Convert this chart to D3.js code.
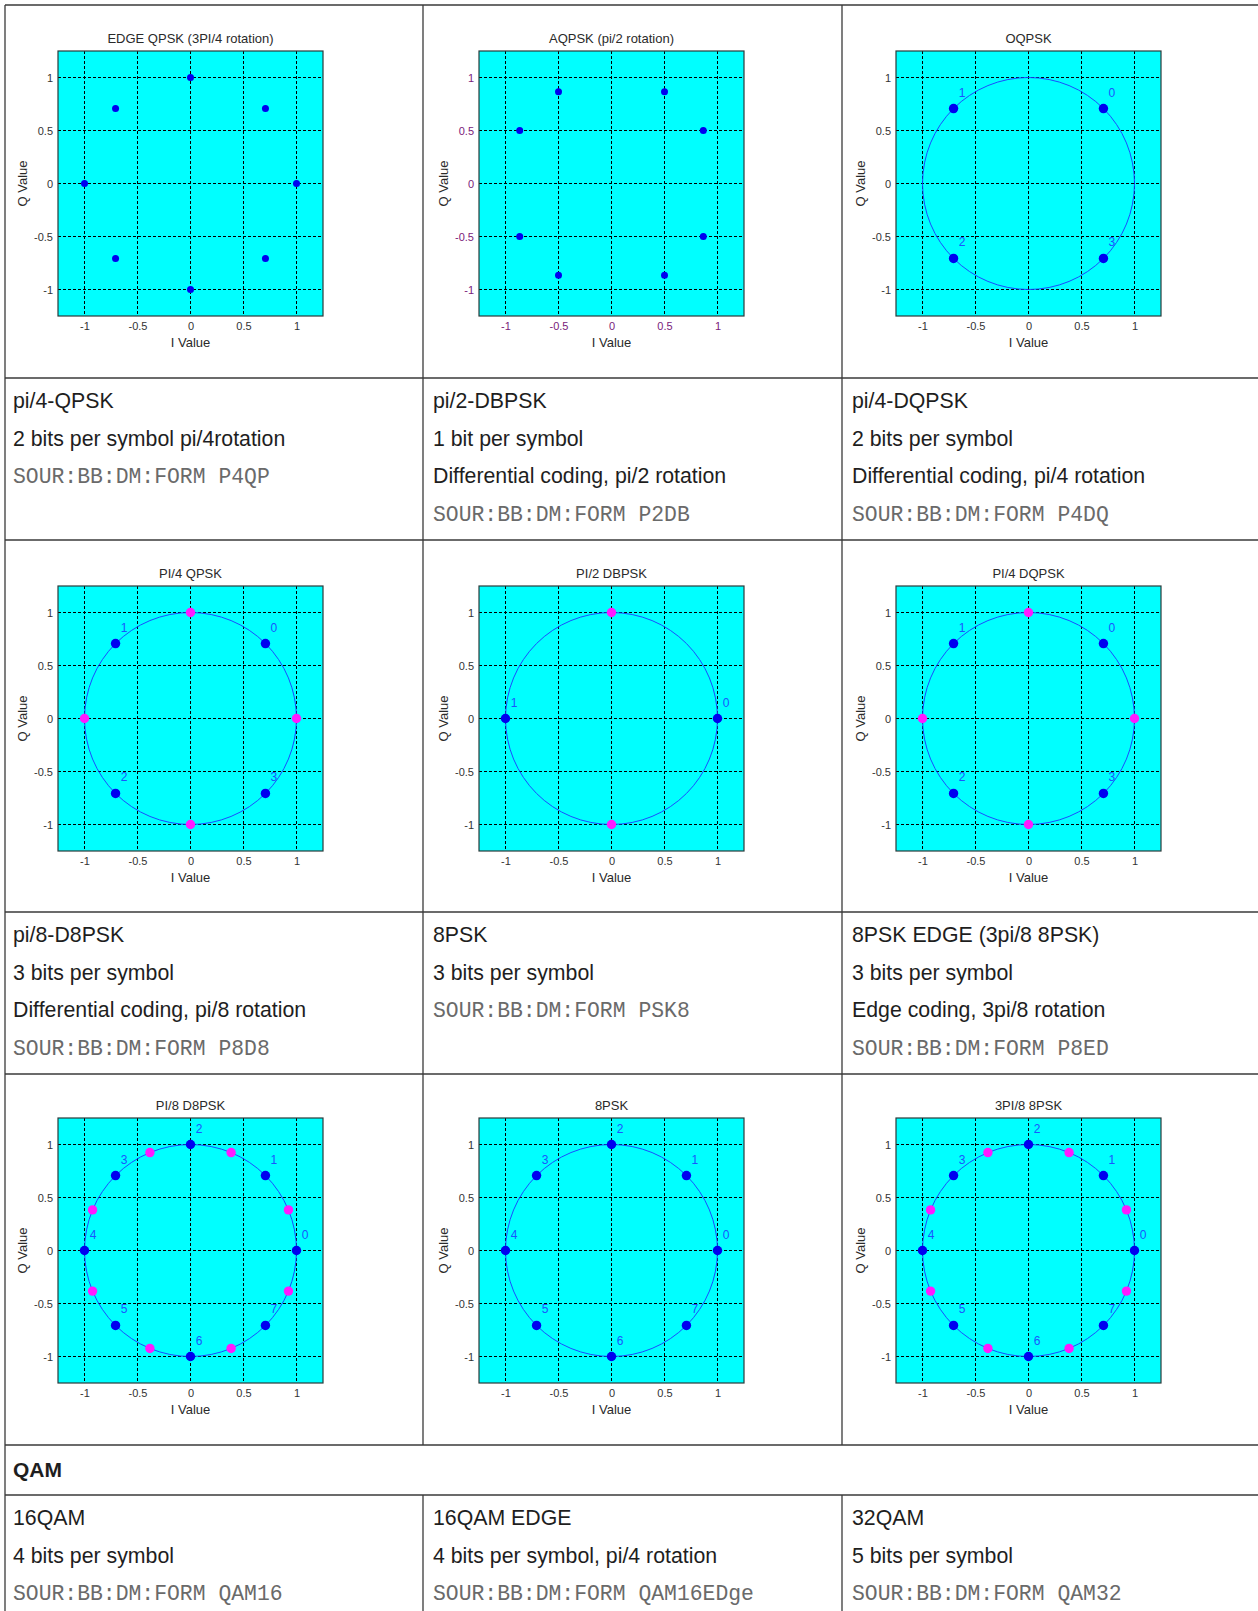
<!DOCTYPE html>
<html>
<head>
<meta charset="utf-8">
<script src="https://cdn.jsdelivr.net/npm/d3@7"></script>
<style>
  body { margin: 0; background: #fff; }
  svg { display: block; }
</style>
</head>
<body>
<div id="page"></div>
<script>
/* DATA */
const ticks = [-1, -0.5, 0, 0.5, 1];

// EDGE QPSK (3PI/4 rotation)
const edgeI = [1, 0.707, 0, -0.707, -1, -0.707, 0, 0.707];
const edgeQ = [0, 0.707, 1, 0.707, 0, -0.707, -1, -0.707];
// AQPSK (pi/2 rotation)
const aqpskI = [0.866, 0.5, -0.5, -0.866, -0.866, -0.5, 0.5, 0.866];
const aqpskQ = [0.5, 0.866, 0.866, 0.5, -0.5, -0.866, -0.866, -0.5];
// QPSK symbols 0..3
const qpskI = [0.707, -0.707, -0.707, 0.707];
const qpskQ = [0.707, 0.707, -0.707, -0.707];
const qpskLabels = ["0", "1", "2", "3"];
// rotated QPSK states (magenta)
const rotQpskI = [1, 0, -1, 0];
const rotQpskQ = [0, 1, 0, -1];
// BPSK symbols 0,1 and rotated states
const bpskI = [1, -1];
const bpskQ = [0, 0];
const bpskLabels = ["0", "1"];
const rotBpskI = [0, 0];
const rotBpskQ = [1, -1];
// 8PSK symbols 0..7
const psk8I = [1, 0.707, 0, -0.707, -1, -0.707, 0, 0.707];
const psk8Q = [0, 0.707, 1, 0.707, 0, -0.707, -1, -0.707];
const psk8Labels = ["0", "1", "2", "3", "4", "5", "6", "7"];
// rotated 8PSK states (magenta)
const rot8I = [0.924, 0.383, -0.383, -0.924, -0.924, -0.383, 0.383, 0.924];
const rot8Q = [0.383, 0.924, 0.924, 0.383, -0.383, -0.924, -0.924, -0.383];

const charts = [
  {title: "EDGE QPSK (3PI/4 rotation)", circle: false, r: 3.5,
   blueI: edgeI, blueQ: edgeQ, labels: null, pinkI: [], pinkQ: [], tickColor: "#333"},
  {title: "AQPSK (pi/2 rotation)", circle: false, r: 3.5,
   blueI: aqpskI, blueQ: aqpskQ, labels: null, pinkI: [], pinkQ: [], tickColor: "#7a1a7a"},
  {title: "OQPSK", circle: true, r: 4.7,
   blueI: qpskI, blueQ: qpskQ, labels: qpskLabels, pinkI: [], pinkQ: [], tickColor: "#333"},
  {title: "PI/4 QPSK", circle: true, r: 4.7,
   blueI: qpskI, blueQ: qpskQ, labels: qpskLabels, pinkI: rotQpskI, pinkQ: rotQpskQ, tickColor: "#333"},
  {title: "PI/2 DBPSK", circle: true, r: 4.7,
   blueI: bpskI, blueQ: bpskQ, labels: bpskLabels, pinkI: rotBpskI, pinkQ: rotBpskQ, tickColor: "#333"},
  {title: "PI/4 DQPSK", circle: true, r: 4.7,
   blueI: qpskI, blueQ: qpskQ, labels: qpskLabels, pinkI: rotQpskI, pinkQ: rotQpskQ, tickColor: "#333"},
  {title: "PI/8 D8PSK", circle: true, r: 4.7,
   blueI: psk8I, blueQ: psk8Q, labels: psk8Labels, pinkI: rot8I, pinkQ: rot8Q, tickColor: "#333"},
  {title: "8PSK", circle: true, r: 4.7,
   blueI: psk8I, blueQ: psk8Q, labels: psk8Labels, pinkI: [], pinkQ: [], tickColor: "#333"},
  {title: "3PI/8 8PSK", circle: true, r: 4.7,
   blueI: psk8I, blueQ: psk8Q, labels: psk8Labels, pinkI: rot8I, pinkQ: rot8Q, tickColor: "#333"}
];

const descRow1 = [
  ["pi/4-QPSK", "2 bits per symbol pi/4rotation", "SOUR:BB:DM:FORM P4QP"],
  ["pi/2-DBPSK", "1 bit per symbol", "Differential coding, pi/2 rotation", "SOUR:BB:DM:FORM P2DB"],
  ["pi/4-DQPSK", "2 bits per symbol", "Differential coding, pi/4 rotation", "SOUR:BB:DM:FORM P4DQ"]
];
const descRow2 = [
  ["pi/8-D8PSK", "3 bits per symbol", "Differential coding, pi/8 rotation", "SOUR:BB:DM:FORM P8D8"],
  ["8PSK", "3 bits per symbol", "SOUR:BB:DM:FORM PSK8"],
  ["8PSK EDGE (3pi/8 8PSK)", "3 bits per symbol", "Edge coding, 3pi/8 rotation", "SOUR:BB:DM:FORM P8ED"]
];
const sectionTitle = "QAM";
const descRow3 = [
  ["16QAM", "4 bits per symbol", "SOUR:BB:DM:FORM QAM16"],
  ["16QAM EDGE", "4 bits per symbol, pi/4 rotation", "SOUR:BB:DM:FORM QAM16EDge"],
  ["32QAM", "5 bits per symbol", "SOUR:BB:DM:FORM QAM32"]
];

/* LAYOUT */
const W = 1258, H = 1611;
const colX = [5, 423, 842];
const rowY = [5, 378, 540, 912, 1074, 1445, 1495];
const plotLeft = [58, 479, 896];
const plotTop = [51, 586, 1118];
const plotSize = 265;
const textX = [13, 433, 852];

const svg = d3.select("#page").append("svg")
  .attr("width", W).attr("height", H);

/* TABLE LINES */
const grid = svg.append("g").attr("stroke", "#3a3a3a").attr("stroke-width", 1.3);
rowY.forEach(y => grid.append("line").attr("x1", colX[0]).attr("x2", W).attr("y1", y).attr("y2", y));
grid.append("line").attr("x1", colX[0]).attr("x2", colX[0]).attr("y1", rowY[0]).attr("y2", H);
[1, 2].forEach(c => {
  grid.append("line").attr("x1", colX[c]).attr("x2", colX[c]).attr("y1", rowY[0]).attr("y2", rowY[5]);
  grid.append("line").attr("x1", colX[c]).attr("x2", colX[c]).attr("y1", rowY[6]).attr("y2", H);
});

/* DESCRIPTION CELLS */
function drawCells(rows, top) {
  rows.forEach((lines, c) => {
    lines.forEach((t, i) => {
      const mono = t.startsWith("SOUR:");
      svg.append("text")
        .attr("x", textX[c])
        .attr("y", top + 30 + i * 37.6)
        .style("font-family", mono ? "'Liberation Mono', 'Courier New', monospace" : "'Liberation Sans', Arial, sans-serif")
        .style("font-size", mono ? "21.4px" : "21.3px")
        .style("fill", mono ? "#6a6a6a" : "#1e1e1e")
        .text(t);
    });
  });
}
drawCells(descRow1, rowY[1]);
drawCells(descRow2, rowY[3]);
drawCells(descRow3, rowY[6]);

svg.append("text")
  .attr("x", textX[0]).attr("y", rowY[5] + 32)
  .style("font-family", "'Liberation Sans', Arial, sans-serif")
  .style("font-size", "21px").style("font-weight", "bold")
  .style("fill", "#1e1e1e")
  .text(sectionTitle);

/* CONSTELLATION CHARTS */
const fontSans = "'Liberation Sans', Arial, sans-serif";

charts.forEach((ch, k) => {
  const col = k % 3, row = Math.floor(k / 3);
  const g = svg.append("g")
    .attr("transform", `translate(${plotLeft[col]},${plotTop[row]})`);

  const x = d3.scaleLinear().domain([-1.25, 1.25]).range([0, plotSize]);
  const y = d3.scaleLinear().domain([-1.25, 1.25]).range([plotSize, 0]);

  g.append("rect")
    .attr("width", plotSize).attr("height", plotSize)
    .attr("fill", "#00ffff");

  // dashed grid
  g.selectAll(".vg").data(ticks).join("line")
    .attr("x1", d => x(d)).attr("x2", d => x(d))
    .attr("y1", 0).attr("y2", plotSize)
    .attr("stroke", "#000").attr("stroke-width", 1)
    .attr("stroke-dasharray", "3,2");
  g.selectAll(".hg").data(ticks).join("line")
    .attr("y1", d => y(d)).attr("y2", d => y(d))
    .attr("x1", 0).attr("x2", plotSize)
    .attr("stroke", "#000").attr("stroke-width", 1)
    .attr("stroke-dasharray", "3,2");

  g.append("rect")
    .attr("width", plotSize).attr("height", plotSize)
    .attr("fill", "none").attr("stroke", "#2a3a3a").attr("stroke-width", 1.2);

  // axes
  const fmt = d => String(d);
  const xa = g.append("g")
    .attr("transform", `translate(0,${plotSize})`)
    .call(d3.axisBottom(x).tickValues(ticks).tickSize(0).tickPadding(6).tickFormat(fmt));
  const ya = g.append("g")
    .call(d3.axisLeft(y).tickValues(ticks).tickSize(0).tickPadding(5).tickFormat(fmt));
  [xa, ya].forEach(a => {
    a.select(".domain").remove();
    a.selectAll("text")
      .style("font-family", fontSans).style("font-size", "11px")
      .attr("fill", ch.tickColor);
  });

  // unit circle
  if (ch.circle) {
    g.append("circle")
      .attr("cx", x(0)).attr("cy", y(0))
      .attr("r", x(1) - x(0))
      .attr("fill", "none").attr("stroke", "#1a4cff").attr("stroke-width", 1);
  }

  // rotated states
  g.selectAll(".pink").data(d3.range(ch.pinkI.length)).join("circle")
    .attr("cx", i => x(ch.pinkI[i])).attr("cy", i => y(ch.pinkQ[i]))
    .attr("r", ch.r).attr("fill", "#ff1aff");

  // symbols
  g.selectAll(".blue").data(d3.range(ch.blueI.length)).join("circle")
    .attr("cx", i => x(ch.blueI[i])).attr("cy", i => y(ch.blueQ[i]))
    .attr("r", ch.r).attr("fill", "#0000f0");

  if (ch.labels) {
    g.selectAll(".lab").data(d3.range(ch.labels.length)).join("text")
      .attr("x", i => x(ch.blueI[i]) + 8.5)
      .attr("y", i => y(ch.blueQ[i]) - 12)
      .attr("text-anchor", "middle")
      .style("font-family", fontSans).style("font-size", "12px")
      .attr("fill", "#1a55ff")
      .text(i => ch.labels[i]);
  }

  // titles
  g.append("text")
    .attr("x", plotSize / 2).attr("y", -8)
    .attr("text-anchor", "middle")
    .style("font-family", fontSans).style("font-size", "13px")
    .attr("fill", "#2a2a2a")
    .text(ch.title);

  g.append("text")
    .attr("x", plotSize / 2).attr("y", plotSize + 31)
    .attr("text-anchor", "middle")
    .style("font-family", fontSans).style("font-size", "13px")
    .attr("fill", "#2a2a2a")
    .text("I Value");

  g.append("text")
    .attr("transform", `translate(-36,${plotSize / 2}) rotate(-90)`)
    .attr("text-anchor", "middle")
    .attr("dominant-baseline", "central")
    .style("font-family", fontSans).style("font-size", "13px")
    .attr("fill", "#2a2a2a")
    .text("Q Value");
});
</script>
</body>
</html>
